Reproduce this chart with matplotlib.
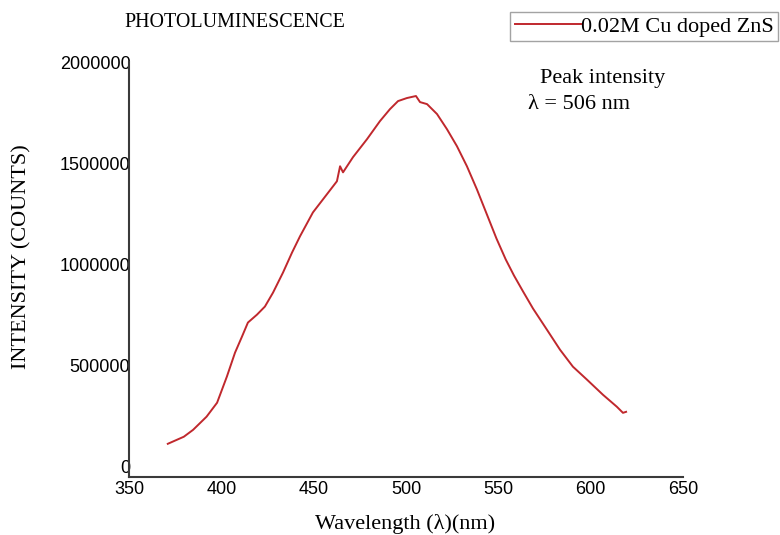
import numpy as np
import matplotlib.pyplot as plt

# PL spectrum (wavelength in nm, intensity in counts)
wavelength = [371, 379.7, 384.7, 392, 397.7, 403, 407.4, 411.2, 414.4, 419.3,
              423.6, 428, 433.4, 438.3, 442.6, 449.6, 457.2, 462.6, 464.3, 465.9,
              471.3, 478.9, 485.9, 491.3, 495.7, 500.5, 505.4, 507.6, 511.4, 516.8,
              522.2, 527.6, 533, 538.4, 543.9, 549.0, 554.0, 558.5, 563.3, 568.8,
              576.3, 583.4, 590.4, 598, 606.7, 614.2, 617.5, 619.2]
intensity = [114000, 149000, 183000, 248000, 317000, 446000, 564000, 644000, 713000, 752000,
             792000, 861000, 960000, 1059000, 1139000, 1257000, 1347000, 1411000, 1485000, 1455000,
             1530000, 1619000, 1708000, 1767000, 1807000, 1822000, 1832000, 1802000, 1792000, 1743000,
             1668000, 1584000, 1485000, 1371000, 1245000, 1128000, 1025000, 945000, 868000, 782000,
             678000, 579000, 495000, 431000, 356000, 297000, 267000, 272000]

x_ticks = [350, 400, 450, 500, 550, 600, 650]
y_ticks = [0, 500000, 1000000, 1500000, 2000000]

serif = ['Liberation Serif', 'DejaVu Serif']
sans = ['Liberation Sans', 'DejaVu Sans']

fig = plt.figure(figsize=(7.8, 5.35), dpi=100)
ax = fig.add_axes([0.1654, 0.1084, 0.7102, 0.7757])

line, = ax.plot(wavelength, intensity, color='#c0282d', lw=1.4)

ax.set_xlim(350, 650)
ax.set_ylim(-50000, 2000000)
ax.set_xticks(x_ticks)
ax.set_yticks(y_ticks)
ax.set_xticklabels([str(v) for v in x_ticks], family=sans, fontsize=13)
ax.set_yticklabels([str(v) for v in y_ticks], family=sans, fontsize=13)
ax.tick_params(axis='both', length=0)
ax.tick_params(axis='y', pad=-1)
ax.tick_params(axis='x', pad=3)

for s in ['top', 'right']:
    ax.spines[s].set_visible(False)
for s in ['left', 'bottom']:
    ax.spines[s].set_color('#3a3a3a')
    ax.spines[s].set_linewidth(1.5)

ax.set_xlabel('Wavelength (λ)(nm)', family=serif, fontsize=16)
ax.set_ylabel('INTENSITY (COUNTS)', family=serif, fontsize=16)
ax.xaxis.set_label_coords(0.498, -0.088)
ax.yaxis.set_label_coords(-0.176, 0.53)

fig.text(0.16, 0.958, 'PHOTOLUMINESCENCE', family=serif, fontsize=14.4, va='center')
fig.text(0.692, 0.853, 'Peak intensity', family=serif, fontsize=16, va='center')
fig.text(0.677, 0.805, 'λ = 506 nm', family=serif, fontsize=16, va='center')

leg = fig.legend([line], ['0.02M Cu doped ZnS'], loc='upper right',
                 bbox_to_anchor=(0.998, 0.978), prop={'family': serif, 'size': 16},
                 fancybox=False, edgecolor='#8c8c8c', handlelength=3.0,
                 handletextpad=0.0, borderpad=0.2, borderaxespad=0)
leg.get_frame().set_linewidth(1.0)

fig.savefig('out.png', dpi=100)
